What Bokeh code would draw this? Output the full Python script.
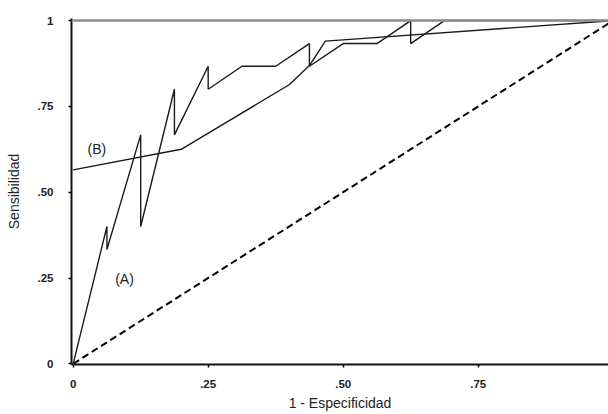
from bokeh.plotting import figure
from bokeh.models import Range1d, FixedTicker, Span, Label
from bokeh.embed import file_html
from bokeh.resources import INLINE

# Curve (A): empirical ROC
fpr_a = [0, 0.0625, 0.0625, 0.125, 0.125, 0.1875, 0.1875, 0.25, 0.25, 0.3125, 0.375,
         0.4375, 0.4375, 0.5, 0.5625, 0.625, 0.625, 0.6875, 0.75, 0.8125, 0.875, 0.9375, 1.0]
tpr_a = [0, 0.400, 0.333, 0.667, 0.400, 0.800, 0.667, 0.867, 0.800, 0.867, 0.867,
         0.933, 0.867, 0.933, 0.933, 1.0, 0.933, 1.0, 1.0, 1.0, 1.0, 1.0, 1.0]

# Curve (B): fitted ROC
fpr_b = [0, 0.2, 0.4, 0.4375, 0.467, 1.0]
tpr_b = [0.565, 0.625, 0.813, 0.869, 0.94, 1.0]

# Chance diagonal
diag_x = [0, 1]
diag_y = [0, 1]

ticks = [0, 0.25, 0.5, 0.75, 1]
tick_labels = ["0", ".25", ".50", ".75", "1"]

curve_names = ["(A)", "(B)"]
name_x = [0.095, 0.044]
name_y = [0.246, 0.627]

FONT = "Liberation Sans"

p = figure(width=608, height=414, output_backend="svg", toolbar_location=None,
           x_range=Range1d(-0.0031, 0.9913), y_range=Range1d(-0.002, 1.006),
           min_border_left=71, min_border_right=0, min_border_top=18, min_border_bottom=50)
p.outline_line_color = None
p.xgrid.visible = False
p.ygrid.visible = False
p.background_fill_color = "white"
p.border_fill_color = "white"

p.line(diag_x, diag_y, line_color="black", line_width=2, line_dash="7 4")
p.line(fpr_a, tpr_a, line_color="#1a1a1a", line_width=1.4)
p.line(fpr_b, tpr_b, line_color="#1a1a1a", line_width=1.4)

top = Span(location=ticks[-1], dimension="width", line_color="#8c8c8c", line_width=2.5)
p.add_layout(top)

for t, xx, yy in zip(curve_names, name_x, name_y):
    p.add_layout(Label(x=xx, y=yy, text=t, text_font=FONT, text_font_size="14px",
                       text_align="center", text_baseline="middle", text_color="#222222"))

labels = dict(zip(ticks, tick_labels))
for ax in (p.xaxis, p.yaxis):
    ax.ticker = FixedTicker(ticks=ticks)
    ax.major_label_overrides = labels
    ax.minor_tick_line_color = None
    ax.major_tick_out = 3
    ax.major_tick_in = 0
    ax.axis_line_width = 2
    ax.axis_line_color = "#111111"
    ax.major_tick_line_width = 1.5
    ax.major_label_text_font = FONT
    ax.major_label_text_font_size = "11.5px"
    ax.major_label_text_font_style = "bold"
    ax.major_label_text_color = "#222222"
    ax.axis_label_text_font = FONT
    ax.axis_label_text_font_size = "14px"
    ax.axis_label_text_font_style = "normal"
    ax.axis_label_text_color = "#222222"

p.xaxis.axis_label = "1 - Especificidad"
p.yaxis.axis_label = "Sensibilidad"
p.xaxis.major_label_standoff = 12
p.xaxis.axis_label_standoff = 4
p.yaxis.major_label_standoff = 15
p.yaxis.axis_label_standoff = 13

open("out.html", "w").write(file_html(p, INLINE))
